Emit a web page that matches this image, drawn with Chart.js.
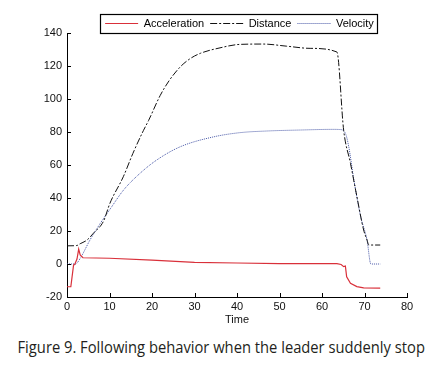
<!DOCTYPE html>
<html>
<head>
<meta charset="utf-8">
<script src="https://cdn.jsdelivr.net/npm/chart.js@4.4.0/dist/chart.umd.min.js"></script>
<style>
html, body { margin:0; padding:0; background:#fff; }
#wrap { position:relative; width:433px; height:370px; overflow:hidden; }
#c { position:absolute; left:0; top:0; }
#cap { position:absolute; left:0; top:336px; width:433px; text-align:center; white-space:nowrap; }
#capText { display:inline-block; font-family:'Open Sans', sans-serif; font-size:16px; color:#231f20; transform-origin:center; }
</style>
</head>
<body>
<div id="wrap">
  <canvas id="c" width="433" height="330"></canvas>
  <div id="cap"><span id="capText">Figure 9. Following behavior when the leader suddenly stop</span></div>
</div>
<script>
// ── data ─────────────────────────────────────────────────
const accT  = [0, 0.9, 1.55, 1.8, 2.35, 2.75, 3.1, 3.75, 10, 20, 30, 40, 50, 63.5, 64.5, 65.1, 65.5, 65.8, 66.7, 68.2, 69.8, 73.7];
const accV  = [-13.8, -13.8, -0.6, -0.3, 3, 9, 5.5, 3.8, 3.5, 2.3, 1, 0.6, 0.2, 0.2, -0.3, -1.6, -1.2, -7.7, -11.7, -13.7, -14.5, -14.6];

const distT = [0, 2.3, 3.1, 4.7, 6.2, 8.6, 10.1, 13.25, 15.5, 18, 19.2, 21.9, 24, 26.7, 29, 31.4, 36, 40.7, 46.2, 51.7, 57.2, 63.5, 65.1, 66.7, 68.2, 69.8, 70.6, 71, 73.7];
const distV = [11, 11.2, 12.3, 14.5, 18.6, 26, 36.8, 52.9, 67, 81, 87, 102, 111, 119.6, 124.5, 127.7, 131, 133.1, 133.3, 132, 130.7, 128.5, 81, 61, 41, 20.6, 14.5, 11.5, 11.5];

const velT  = [0, 2.0, 3.1, 5.4, 7.8, 10.2, 13.3, 17.2, 21.1, 26.6, 34.4, 40.7, 47, 54.9, 62.7, 64.2, 65.5, 66.3, 67.5, 69.1, 70.6, 71.5, 73.7];
const velV  = [0, 0, 3.4, 14.5, 24.5, 33.5, 44.8, 55, 63, 71, 77, 79.6, 80.6, 81.2, 81.6, 81.5, 79.2, 71, 51, 28.7, 14.5, 0, 0];

const xMin = 0, xMax = 80, xStep = 10;
const yMin = -20, yMax = 140, yStep = 20;

const pts = (ts, vs) => ts.map((t, i) => ({ x: t, y: vs[i] }));
const FONT = "'Liberation Sans', Arial, sans-serif";

// legend placement, inner tick marks, legend frame
const figDecor = {
  id: 'figDecor',
  afterLayout(chart) {
    const lg = chart.legend, ca = chart.chartArea;
    const dx = (ca.left + ca.right) / 2 + 2.5 - (lg.left + lg.right) / 2;
    lg.left += dx; lg.right += dx;
    lg.top += 6; lg.bottom += 6;
  },
  afterDraw(chart) {
    const { ctx, scales: { x, y } } = chart;
    ctx.save();
    ctx.strokeStyle = '#000';
    ctx.lineWidth = 1;
    ctx.setLineDash([]);
    ctx.beginPath();
    x.ticks.forEach(t => {
      const px = Math.round(x.getPixelForValue(t.value)) + 0.5;
      ctx.moveTo(px, y.bottom); ctx.lineTo(px, y.bottom - 4);
    });
    y.ticks.forEach(t => {
      const py = Math.round(y.getPixelForValue(t.value)) + 0.5;
      ctx.moveTo(x.left, py); ctx.lineTo(x.left + 4, py);
    });
    ctx.stroke();
    const hb = chart.legend.legendHitBoxes;
    if (hb && hb.length) {
      const l = Math.min(...hb.map(h => h.left)) - 5;
      const r = Math.max(...hb.map(h => h.left + h.width)) + 3;
      const t = Math.min(...hb.map(h => h.top)) - 4;
      const b = Math.max(...hb.map(h => h.top + h.height)) + 4;
      ctx.lineWidth = 1.2;
      ctx.strokeRect(Math.round(l) + 0.5, Math.round(t) + 0.5, Math.round(r - l), Math.round(b - t));
    }
    ctx.restore();
  }
};

new Chart(document.getElementById('c').getContext('2d'), {
  type: 'line',
  data: {
    datasets: [
      { label: 'Acceleration', data: pts(accT, accV), borderColor: '#d9303a', borderWidth: 1.2, pointRadius: 0, tension: 0 },
      { label: 'Distance', data: pts(distT, distV), borderColor: '#111', borderWidth: 1, borderDash: [7, 2, 2, 2], pointRadius: 0, cubicInterpolationMode: 'monotone' },
      { label: 'Velocity', data: pts(velT, velV), borderColor: '#4656a6', borderWidth: 1, borderDash: [1, 1], pointRadius: 0, cubicInterpolationMode: 'monotone' },
    ]
  },
  options: {
    responsive: false, animation: false,
    layout: { padding: { left: 0, right: 26, top: 6, bottom: 0 } },
    plugins: {
      tooltip: { enabled: false },
      legend: {
        position: 'top',
        labels: {
          usePointStyle: true, pointStyleWidth: 33,
          padding: 6, color: '#000', font: { size: 11, family: FONT },
          generateLabels: chart => chart.data.datasets.map((ds, i) => ({
            text: ds.label, datasetIndex: i, hidden: false,
            fillStyle: ds.borderColor, strokeStyle: ds.borderColor, fontColor: '#000',
            lineWidth: 1, lineDash: ds.borderDash || [], lineCap: 'butt',
            pointStyle: 'line', rotation: 0
          }))
        }
      }
    },
    scales: {
      x: {
        type: 'linear', min: xMin, max: xMax,
        afterFit: s => { s.height = 33; },
        grid: { display: true, drawOnChartArea: false, drawTicks: false },
        border: { display: true, color: '#000', width: 1 },
        ticks: { stepSize: xStep, padding: 3, color: '#111', font: { size: 11, family: FONT }, maxRotation: 0 },
        title: { display: true, text: 'Time', color: '#111', font: { size: 11, family: FONT }, padding: { top: 0, bottom: 3 } }
      },
      y: {
        min: yMin, max: yMax,
        afterFit: s => { s.width = 67; },
        grid: { display: true, drawOnChartArea: false, drawTicks: false },
        border: { display: true, color: '#000', width: 1 },
        ticks: { stepSize: yStep, padding: 5, color: '#111', font: { size: 11, family: FONT } }
      }
    }
  },
  plugins: [figDecor]
});

// squeeze the caption to the reference width
const cap = document.getElementById('capText');
cap.style.transform = `scaleX(${407 / cap.offsetWidth})`;
</script>
</body>
</html>
